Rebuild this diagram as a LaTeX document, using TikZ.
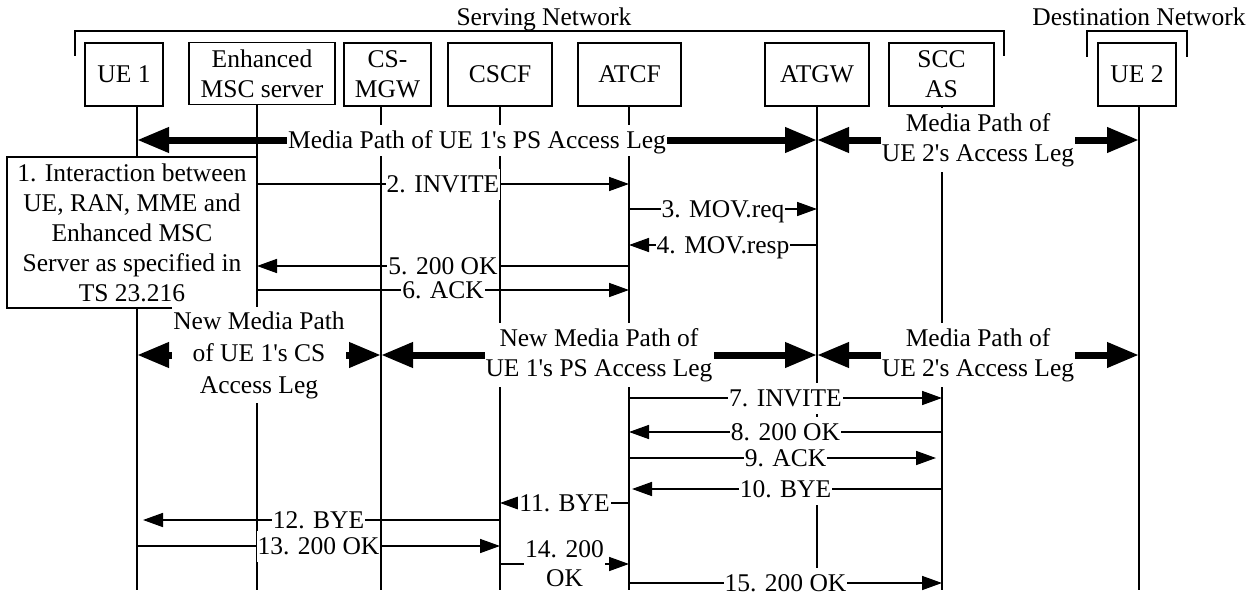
\documentclass[tikz,border=0pt]{standalone}
\usepackage{fontspec}
\setmainfont{Liberation Serif}
\usetikzlibrary{arrows.meta}
\newcommand{\apos}{\textquotesingle}
\begin{document}
\begin{tikzpicture}[x=1pt,y=-1pt,
  every node/.style={font=\fontsize{25.5}{30}\selectfont, inner sep=1pt},
  box/.style={draw, line width=1.5pt, fill=white, align=center, inner sep=0pt, minimum height=63pt},
  life/.style={line width=1.2pt},
  msg/.style={line width=1.6pt, >={Triangle[length=20pt,width=14pt]}, ->},
  media/.style={line width=7pt, >={Triangle[length=32pt,width=24pt]}, <->},
  lbl/.style={fill=white, inner sep=1pt, text height=23pt, text depth=6pt},
  mlbl/.style={fill=white, inner sep=1pt, align=center},
  brk/.style={line width=1.5pt}]
\fill[white] (0,0) rectangle (1256,594);
\useasboundingbox (0,0) rectangle (1256,594);

% network labels and brackets
\node[lbl] (sn) at (544,17) {Serving Network};
\node[lbl] (dn) at (1139,17) {Destination Network};
\draw[brk] (75,56) -- (75,31) -- (1004,31) -- (1004,56);
\draw[brk] (1087,57) -- (1087,31) -- (1187,31) -- (1187,57);

% lifeline coordinates
\coordinate (l1) at (137,106);
\coordinate (l2) at (257,104);
\coordinate (l3) at (381,106);
\coordinate (l4) at (500,106);
\coordinate (l5) at (629,106);
\coordinate (l6) at (817,106);
\coordinate (l7) at (942,106);
\coordinate (l8) at (1139,106);
\coordinate (bot) at (0,590);
\foreach \l in {l1,l2,l3,l4,l5,l6,l7,l8} \draw[life] (\l) -- (\l |- bot);

% entity boxes
\node[box, minimum width=78pt] (ue1) at (124,74.5) {UE 1};
\node[box, minimum width=146pt, minimum height=62pt] (emsc) at (262,73.5) {Enhanced\\MSC server};
\node[box, minimum width=87pt] (csmgw) at (387.5,74.5) {CS-\\MGW};
\node[box, minimum width=104pt] (cscf) at (500,74.5) {CSCF};
\node[box, minimum width=103pt] (atcf) at (629.5,74.5) {ATCF};
\node[box, minimum width=104pt] (atgw) at (817,74.5) {ATGW};
\node[box, minimum width=105pt] (sccas) at (941.5,74.5) {SCC\\AS};
\node[box, minimum width=78pt] (ue2) at (1137,74.5) {UE 2};

% rows
\coordinate (rA) at (0,140);
\coordinate (r2) at (0,184);
\coordinate (r3) at (0,209);
\coordinate (r4) at (0,245);
\coordinate (r5) at (0,266);
\coordinate (r6) at (0,290);
\coordinate (rB) at (0,355);
\coordinate (r7) at (0,398);
\coordinate (r8) at (0,432);
\coordinate (r9) at (0,458);
\coordinate (r10) at (0,489);
\coordinate (r11) at (0,503);
\coordinate (r12) at (0,520);
\coordinate (r13) at (0,546);
\coordinate (r14) at (0,564);
\coordinate (r15) at (0,583);

% media paths (top)
\draw[media] (l1 |- rA) -- node[lbl] (mp1) {Media Path of UE 1\apos s PS Access Leg} (l6 |- rA);
\draw[media] (l6 |- rA) -- node[mlbl, minimum height=64pt] (mp2) {Media Path of\\UE 2\apos s Access Leg} (l8 |- rA);

% step 1 box
\node[box, minimum width=250pt, minimum height=151pt] (interact) at (132,232.5)
  {1. Interaction between\\UE, RAN, MME and\\Enhanced MSC\\Server as specified in\\TS 23.216};

% messages 2-6
\draw[msg] (l2 |- r2) -- node[lbl] (m2) {2. INVITE} (l5 |- r2);
\draw[msg] (l5 |- r3) -- node[lbl] (m3) {3. MOV.req} (l6 |- r3);
\draw[msg] (l6 |- r4) -- node[lbl] (m4) {4. MOV.resp} (l5 |- r4);
\draw[msg] (l5 |- r5) -- node[lbl] (m5) {5. 200 OK} (l2 |- r5);
\draw[msg] (l2 |- r6) -- node[lbl] (m6) {6. ACK} (l5 |- r6);

% new media paths
\draw[media] (l1 |- rB) -- node[mlbl, minimum height=96pt, font=\fontsize{25.5}{32}\selectfont] (nmp1) {New Media Path\\of UE 1\apos s CS\\Access Leg} (l3 |- rB);
\draw[media] (l3 |- rB) -- node[mlbl, minimum height=64pt] (nmp2) {New Media Path of\\UE 1\apos s PS Access Leg} (l6 |- rB);
\draw[media] (l6 |- rB) -- node[mlbl, minimum height=64pt] (mp3) {Media Path of\\UE 2\apos s Access Leg} (l8 |- rB);

% messages 7-15
\draw[msg] (l5 |- r7) -- node[lbl] (m7) {7. INVITE} (l7 |- r7);
\draw[msg] (l7 |- r8) -- node[lbl] (m8) {8. 200 OK} (l5 |- r8);
\draw[msg, shorten >=6pt] (l5 |- r9) -- node[lbl] (m9) {9. ACK} (l7 |- r9);
\draw[msg, shorten >=3pt] (l7 |- r10) -- node[lbl] (m10) {10. BYE} (l5 |- r10);
\draw[msg] (l5 |- r11) -- node[lbl] (m11) {11. BYE} (l4 |- r11);
\draw[msg, shorten >=6pt] (l4 |- r12) -- node[lbl] (m12) {12. BYE} (l1 |- r12);
\draw[msg] (l1 |- r13) -- node[lbl] (m13) {13. 200 OK} (l4 |- r13);
\draw[msg] (l4 |- r14) -- node[mlbl, font=\fontsize{25.5}{29}\selectfont] (m14) {14. 200\\OK} (l5 |- r14);
\draw[msg] (l5 |- r15) -- node[lbl] (m15) {15. 200 OK} (l7 |- r15);
\end{tikzpicture}
\end{document}
